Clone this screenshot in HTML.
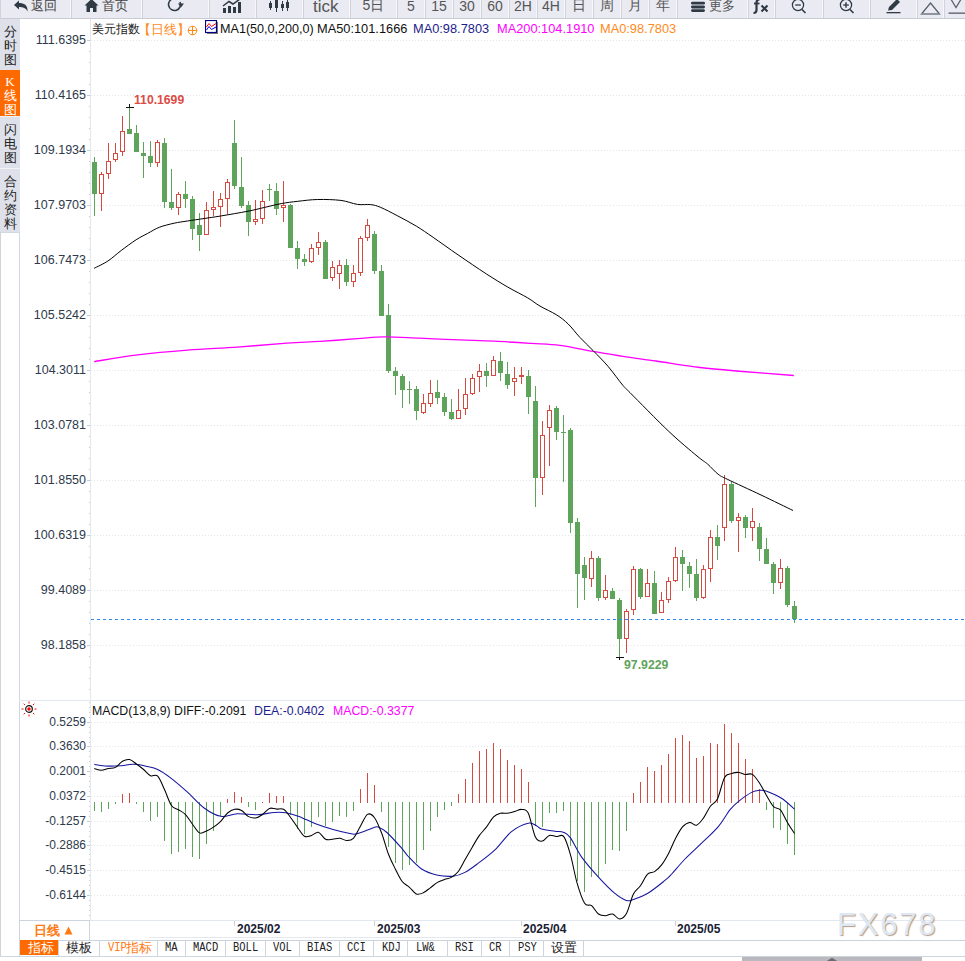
<!DOCTYPE html><html><head><meta charset="utf-8"><style>
*{margin:0;padding:0;box-sizing:border-box}
html,body{width:965px;height:961px;overflow:hidden;background:#fff;font-family:"Liberation Sans",sans-serif}
.t{position:absolute;white-space:nowrap;line-height:1}
#tb{position:absolute;left:0;top:0;width:965px;height:19px;background:#e9eaf2;border-bottom:1px solid #c9ccd4;overflow:hidden}
.sep{position:absolute;top:0;height:18px;width:2px;border-left:1px solid #f7f7fa;border-right:1px solid #cfd2d9}
.tbt{position:absolute;top:-4px;font-size:14px;color:#555;line-height:16px;white-space:nowrap}
.side{position:absolute;left:0;width:20px;background:#dfe1ea;color:#222;font-size:13px;line-height:14px;text-align:center}
.yl{position:absolute;right:878px;font-size:12.5px;color:#2e3a4c;line-height:13px;text-align:right}
.btab{position:absolute;top:940px;height:15px;font-family:"Liberation Mono",monospace;font-size:11px;line-height:15px;color:#333;text-align:center;border-right:1px solid #cdd4dd}
</style></head><body>

<div id="tb">
<div class="sep" style="left:70px"></div>
<div class="sep" style="left:141px"></div>
<div class="sep" style="left:208px"></div>
<div class="sep" style="left:255px"></div>
<div class="sep" style="left:302px"></div>
<div class="sep" style="left:349px"></div>
<div class="sep" style="left:396px"></div>
<div class="sep" style="left:424px"></div>
<div class="sep" style="left:452px"></div>
<div class="sep" style="left:480px"></div>
<div class="sep" style="left:508px"></div>
<div class="sep" style="left:536px"></div>
<div class="sep" style="left:564px"></div>
<div class="sep" style="left:592px"></div>
<div class="sep" style="left:620px"></div>
<div class="sep" style="left:648px"></div>
<div class="sep" style="left:676px"></div>
<div class="sep" style="left:747px"></div>
<div class="sep" style="left:774px"></div>
<div class="sep" style="left:822px"></div>
<div class="sep" style="left:869px"></div>
<div class="sep" style="left:916px"></div>
<div class="sep" style="left:943px"></div>
<svg style="position:absolute;left:13px;top:0" width="17" height="13"><path d="M1,5 L6,0.5 L6,3 C11,3 15,5 14.5,11.5 C13,8 10,7 6,7 L6,9.5 Z" fill="#2f3a45"/></svg>
<div class="tbt" style="left:31px;color:#444;font-size:13px;top:-2px">返回</div>
<svg style="position:absolute;left:84px;top:0" width="15" height="13"><path d="M7.5,-1 L14.5,5.5 L12.5,5.5 L12.5,12 L9,12 L9,8 L6,8 L6,12 L2.5,12 L2.5,5.5 L0.5,5.5 Z" fill="#2f3a45"/></svg>
<div class="tbt" style="left:102px;color:#444;font-size:13px;top:-2px">首页</div>
<svg style="position:absolute;left:166px;top:0" width="20" height="13"><path d="M14,2 A6,6 0 1 1 8,-1.5" fill="none" stroke="#2f3a45" stroke-width="1.6"/><path d="M12,3.5 L18,3.5 L15,7.5 Z" fill="#2f3a45"/></svg>
<svg style="position:absolute;left:222px;top:0" width="20" height="13"><rect x="1" y="8" width="3" height="5" fill="#2f3a45"/><rect x="6" y="6" width="3" height="7" fill="#2f3a45"/><rect x="11" y="7" width="3" height="6" fill="#2f3a45"/><rect x="16" y="2" width="3" height="11" fill="#2f3a45"/><polyline points="1,6 7,1.5 11,4 18,-1" fill="none" stroke="#2f3a45" stroke-width="1.5"/></svg>
<svg style="position:absolute;left:268px;top:0" width="22" height="13"><g fill="#2f3a45"><rect x="1" y="3" width="3" height="5"/><rect x="2" y="1" width="1" height="9"/><rect x="7" y="0" width="3" height="8"/><rect x="8" y="0" width="1" height="12"/><rect x="13" y="4" width="3" height="4"/><rect x="14" y="1" width="1" height="10"/><rect x="18" y="2" width="3" height="6"/><rect x="19" y="0" width="1" height="11"/></g></svg>
<div class="tbt" style="left:313px;font-size:17px;color:#555;top:-2px;line-height:18px">tick</div>
<div class="tbt" style="left:350px;width:47px;text-align:center;top:-3px">5日</div>
<div class="tbt" style="left:397px;width:28px;text-align:center;top:-2px">5</div>
<div class="tbt" style="left:425px;width:28px;text-align:center;top:-2px">15</div>
<div class="tbt" style="left:453px;width:28px;text-align:center;top:-2px">30</div>
<div class="tbt" style="left:481px;width:28px;text-align:center;top:-2px">60</div>
<div class="tbt" style="left:509px;width:28px;text-align:center;top:-2px">2H</div>
<div class="tbt" style="left:537px;width:28px;text-align:center;top:-2px">4H</div>
<div class="tbt" style="left:565px;width:28px;text-align:center;top:-3px">日</div>
<div class="tbt" style="left:593px;width:28px;text-align:center;top:-3px">周</div>
<div class="tbt" style="left:621px;width:28px;text-align:center;top:-3px">月</div>
<div class="tbt" style="left:649px;width:28px;text-align:center;top:-3px">年</div>
<svg style="position:absolute;left:690px;top:0" width="16" height="13"><rect x="1" y="1.8" width="14" height="2.8" rx="1.4" fill="#2f3a45"/><rect x="1" y="5.6" width="14" height="2.8" rx="1.4" fill="#2f3a45"/><rect x="1" y="9.2" width="14" height="2.8" rx="1.4" fill="#2f3a45"/></svg>
<div class="tbt" style="left:709px;font-size:13px;top:-2px">更多</div>
<svg style="position:absolute;left:750px;top:0" width="22" height="15"><path d="M9.5,-0.5 Q6.5,-0.5 6.5,3 L6.5,10 Q6.5,13 3.5,13" fill="none" stroke="#2f3a45" stroke-width="2.2"/><line x1="4" y1="3.5" x2="9.5" y2="3.5" stroke="#2f3a45" stroke-width="1.8"/><line x1="11.5" y1="5.5" x2="17.5" y2="11.5" stroke="#2f3a45" stroke-width="2.2"/><line x1="17.5" y1="5.5" x2="11.5" y2="11.5" stroke="#2f3a45" stroke-width="2.2"/></svg>
<svg style="position:absolute;left:790px;top:0" width="20" height="15"><circle cx="8" cy="5" r="5.6" fill="none" stroke="#2f3a45" stroke-width="1.25"/><line x1="5.2" y1="5" x2="10.8" y2="5" stroke="#2f3a45" stroke-width="1.3"/><line x1="12" y1="9.5" x2="15.5" y2="13" stroke="#2f3a45" stroke-width="1.6"/></svg>
<svg style="position:absolute;left:838px;top:0" width="20" height="15"><circle cx="8" cy="5" r="5.6" fill="none" stroke="#2f3a45" stroke-width="1.25"/><line x1="5.2" y1="5" x2="10.8" y2="5" stroke="#2f3a45" stroke-width="1.3"/><line x1="8" y1="2.2" x2="8" y2="7.8" stroke="#2f3a45" stroke-width="1.4"/><line x1="12" y1="9.5" x2="15.5" y2="13" stroke="#2f3a45" stroke-width="1.6"/></svg>
<svg style="position:absolute;left:885px;top:0" width="17" height="15"><path d="M3,10.5 L4,7 L12,-1 L15,2 L7,10 Z" fill="#2f3a45"/><rect x="1.5" y="12" width="14" height="1.3" fill="#2f3a45"/></svg>
<svg style="position:absolute;left:920px;top:0" width="22" height="16"><path d="M1.5,14 L10.5,3 L19.5,14 Z" fill="none" stroke="#555c66" stroke-width="1.2"/><rect x="1" y="13.2" width="19" height="1.5" fill="#8a9099"/></svg>
<svg style="position:absolute;left:947px;top:0" width="18" height="15"><polyline points="2,-4 9,7.5 16,-4" fill="none" stroke="#555c66" stroke-width="1.2"/><rect x="1.5" y="12.5" width="17" height="1.3" fill="#555c66"/></svg>
</div>
<svg width="965" height="961" style="position:absolute;left:0;top:0" shape-rendering="crispEdges"><line x1="91" y1="40.5" x2="965" y2="40.5" stroke="#e0e6ec" stroke-width="1" stroke-dasharray="1,2"/>
<line x1="87" y1="40.5" x2="90" y2="40.5" stroke="#c5cdd6" stroke-width="1"/>
<line x1="91" y1="95.5" x2="965" y2="95.5" stroke="#e0e6ec" stroke-width="1" stroke-dasharray="1,2"/>
<line x1="87" y1="95.5" x2="90" y2="95.5" stroke="#c5cdd6" stroke-width="1"/>
<line x1="91" y1="150.5" x2="965" y2="150.5" stroke="#e0e6ec" stroke-width="1" stroke-dasharray="1,2"/>
<line x1="87" y1="150.5" x2="90" y2="150.5" stroke="#c5cdd6" stroke-width="1"/>
<line x1="91" y1="205.5" x2="965" y2="205.5" stroke="#e0e6ec" stroke-width="1" stroke-dasharray="1,2"/>
<line x1="87" y1="205.5" x2="90" y2="205.5" stroke="#c5cdd6" stroke-width="1"/>
<line x1="91" y1="260.5" x2="965" y2="260.5" stroke="#e0e6ec" stroke-width="1" stroke-dasharray="1,2"/>
<line x1="87" y1="260.5" x2="90" y2="260.5" stroke="#c5cdd6" stroke-width="1"/>
<line x1="91" y1="315.5" x2="965" y2="315.5" stroke="#e0e6ec" stroke-width="1" stroke-dasharray="1,2"/>
<line x1="87" y1="315.5" x2="90" y2="315.5" stroke="#c5cdd6" stroke-width="1"/>
<line x1="91" y1="370.5" x2="965" y2="370.5" stroke="#e0e6ec" stroke-width="1" stroke-dasharray="1,2"/>
<line x1="87" y1="370.5" x2="90" y2="370.5" stroke="#c5cdd6" stroke-width="1"/>
<line x1="91" y1="425.5" x2="965" y2="425.5" stroke="#e0e6ec" stroke-width="1" stroke-dasharray="1,2"/>
<line x1="87" y1="425.5" x2="90" y2="425.5" stroke="#c5cdd6" stroke-width="1"/>
<line x1="91" y1="480.5" x2="965" y2="480.5" stroke="#e0e6ec" stroke-width="1" stroke-dasharray="1,2"/>
<line x1="87" y1="480.5" x2="90" y2="480.5" stroke="#c5cdd6" stroke-width="1"/>
<line x1="91" y1="535.5" x2="965" y2="535.5" stroke="#e0e6ec" stroke-width="1" stroke-dasharray="1,2"/>
<line x1="87" y1="535.5" x2="90" y2="535.5" stroke="#c5cdd6" stroke-width="1"/>
<line x1="91" y1="590.5" x2="965" y2="590.5" stroke="#e0e6ec" stroke-width="1" stroke-dasharray="1,2"/>
<line x1="87" y1="590.5" x2="90" y2="590.5" stroke="#c5cdd6" stroke-width="1"/>
<line x1="91" y1="645.5" x2="965" y2="645.5" stroke="#e0e6ec" stroke-width="1" stroke-dasharray="1,2"/>
<line x1="87" y1="645.5" x2="90" y2="645.5" stroke="#c5cdd6" stroke-width="1"/>
<line x1="89" y1="40.5" x2="90" y2="40.5" stroke="#c5cdd6" stroke-width="1"/>
<line x1="89" y1="51.5" x2="90" y2="51.5" stroke="#c5cdd6" stroke-width="1"/>
<line x1="89" y1="62.5" x2="90" y2="62.5" stroke="#c5cdd6" stroke-width="1"/>
<line x1="89" y1="73.5" x2="90" y2="73.5" stroke="#c5cdd6" stroke-width="1"/>
<line x1="89" y1="51.5" x2="90" y2="51.5" stroke="#c5cdd6" stroke-width="1"/>
<line x1="89" y1="62.5" x2="90" y2="62.5" stroke="#c5cdd6" stroke-width="1"/>
<line x1="89" y1="73.5" x2="90" y2="73.5" stroke="#c5cdd6" stroke-width="1"/>
<line x1="89" y1="84.5" x2="90" y2="84.5" stroke="#c5cdd6" stroke-width="1"/>
<line x1="89" y1="106.5" x2="90" y2="106.5" stroke="#c5cdd6" stroke-width="1"/>
<line x1="89" y1="117.5" x2="90" y2="117.5" stroke="#c5cdd6" stroke-width="1"/>
<line x1="89" y1="128.5" x2="90" y2="128.5" stroke="#c5cdd6" stroke-width="1"/>
<line x1="89" y1="139.5" x2="90" y2="139.5" stroke="#c5cdd6" stroke-width="1"/>
<line x1="89" y1="161.5" x2="90" y2="161.5" stroke="#c5cdd6" stroke-width="1"/>
<line x1="89" y1="172.5" x2="90" y2="172.5" stroke="#c5cdd6" stroke-width="1"/>
<line x1="89" y1="183.5" x2="90" y2="183.5" stroke="#c5cdd6" stroke-width="1"/>
<line x1="89" y1="194.5" x2="90" y2="194.5" stroke="#c5cdd6" stroke-width="1"/>
<line x1="89" y1="216.5" x2="90" y2="216.5" stroke="#c5cdd6" stroke-width="1"/>
<line x1="89" y1="227.5" x2="90" y2="227.5" stroke="#c5cdd6" stroke-width="1"/>
<line x1="89" y1="238.5" x2="90" y2="238.5" stroke="#c5cdd6" stroke-width="1"/>
<line x1="89" y1="249.5" x2="90" y2="249.5" stroke="#c5cdd6" stroke-width="1"/>
<line x1="89" y1="271.5" x2="90" y2="271.5" stroke="#c5cdd6" stroke-width="1"/>
<line x1="89" y1="282.5" x2="90" y2="282.5" stroke="#c5cdd6" stroke-width="1"/>
<line x1="89" y1="293.5" x2="90" y2="293.5" stroke="#c5cdd6" stroke-width="1"/>
<line x1="89" y1="304.5" x2="90" y2="304.5" stroke="#c5cdd6" stroke-width="1"/>
<line x1="89" y1="326.5" x2="90" y2="326.5" stroke="#c5cdd6" stroke-width="1"/>
<line x1="89" y1="337.5" x2="90" y2="337.5" stroke="#c5cdd6" stroke-width="1"/>
<line x1="89" y1="348.5" x2="90" y2="348.5" stroke="#c5cdd6" stroke-width="1"/>
<line x1="89" y1="359.5" x2="90" y2="359.5" stroke="#c5cdd6" stroke-width="1"/>
<line x1="89" y1="381.5" x2="90" y2="381.5" stroke="#c5cdd6" stroke-width="1"/>
<line x1="89" y1="392.5" x2="90" y2="392.5" stroke="#c5cdd6" stroke-width="1"/>
<line x1="89" y1="403.5" x2="90" y2="403.5" stroke="#c5cdd6" stroke-width="1"/>
<line x1="89" y1="414.5" x2="90" y2="414.5" stroke="#c5cdd6" stroke-width="1"/>
<line x1="89" y1="436.5" x2="90" y2="436.5" stroke="#c5cdd6" stroke-width="1"/>
<line x1="89" y1="447.5" x2="90" y2="447.5" stroke="#c5cdd6" stroke-width="1"/>
<line x1="89" y1="458.5" x2="90" y2="458.5" stroke="#c5cdd6" stroke-width="1"/>
<line x1="89" y1="469.5" x2="90" y2="469.5" stroke="#c5cdd6" stroke-width="1"/>
<line x1="89" y1="491.5" x2="90" y2="491.5" stroke="#c5cdd6" stroke-width="1"/>
<line x1="89" y1="502.5" x2="90" y2="502.5" stroke="#c5cdd6" stroke-width="1"/>
<line x1="89" y1="513.5" x2="90" y2="513.5" stroke="#c5cdd6" stroke-width="1"/>
<line x1="89" y1="524.5" x2="90" y2="524.5" stroke="#c5cdd6" stroke-width="1"/>
<line x1="89" y1="546.5" x2="90" y2="546.5" stroke="#c5cdd6" stroke-width="1"/>
<line x1="89" y1="557.5" x2="90" y2="557.5" stroke="#c5cdd6" stroke-width="1"/>
<line x1="89" y1="568.5" x2="90" y2="568.5" stroke="#c5cdd6" stroke-width="1"/>
<line x1="89" y1="579.5" x2="90" y2="579.5" stroke="#c5cdd6" stroke-width="1"/>
<line x1="89" y1="601.5" x2="90" y2="601.5" stroke="#c5cdd6" stroke-width="1"/>
<line x1="89" y1="612.5" x2="90" y2="612.5" stroke="#c5cdd6" stroke-width="1"/>
<line x1="89" y1="623.5" x2="90" y2="623.5" stroke="#c5cdd6" stroke-width="1"/>
<line x1="89" y1="634.5" x2="90" y2="634.5" stroke="#c5cdd6" stroke-width="1"/>
<line x1="89" y1="656.5" x2="90" y2="656.5" stroke="#c5cdd6" stroke-width="1"/>
<line x1="89" y1="667.5" x2="90" y2="667.5" stroke="#c5cdd6" stroke-width="1"/>
<line x1="89" y1="678.5" x2="90" y2="678.5" stroke="#c5cdd6" stroke-width="1"/>
<line x1="89" y1="689.5" x2="90" y2="689.5" stroke="#c5cdd6" stroke-width="1"/>
<line x1="91" y1="722.5" x2="965" y2="722.5" stroke="#e0e6ec" stroke-width="1" stroke-dasharray="1,2"/>
<line x1="87" y1="722.5" x2="90" y2="722.5" stroke="#c5cdd6" stroke-width="1"/>
<line x1="89" y1="727.5" x2="90" y2="727.5" stroke="#c5cdd6" stroke-width="1"/>
<line x1="89" y1="732.5" x2="90" y2="732.5" stroke="#c5cdd6" stroke-width="1"/>
<line x1="89" y1="737.5" x2="90" y2="737.5" stroke="#c5cdd6" stroke-width="1"/>
<line x1="89" y1="742.5" x2="90" y2="742.5" stroke="#c5cdd6" stroke-width="1"/>
<line x1="91" y1="746.5" x2="965" y2="746.5" stroke="#e0e6ec" stroke-width="1" stroke-dasharray="1,2"/>
<line x1="87" y1="746.5" x2="90" y2="746.5" stroke="#c5cdd6" stroke-width="1"/>
<line x1="89" y1="751.5" x2="90" y2="751.5" stroke="#c5cdd6" stroke-width="1"/>
<line x1="89" y1="756.5" x2="90" y2="756.5" stroke="#c5cdd6" stroke-width="1"/>
<line x1="89" y1="761.5" x2="90" y2="761.5" stroke="#c5cdd6" stroke-width="1"/>
<line x1="89" y1="766.5" x2="90" y2="766.5" stroke="#c5cdd6" stroke-width="1"/>
<line x1="91" y1="771.5" x2="965" y2="771.5" stroke="#e0e6ec" stroke-width="1" stroke-dasharray="1,2"/>
<line x1="87" y1="771.5" x2="90" y2="771.5" stroke="#c5cdd6" stroke-width="1"/>
<line x1="89" y1="776.5" x2="90" y2="776.5" stroke="#c5cdd6" stroke-width="1"/>
<line x1="89" y1="781.5" x2="90" y2="781.5" stroke="#c5cdd6" stroke-width="1"/>
<line x1="89" y1="786.5" x2="90" y2="786.5" stroke="#c5cdd6" stroke-width="1"/>
<line x1="89" y1="791.5" x2="90" y2="791.5" stroke="#c5cdd6" stroke-width="1"/>
<line x1="91" y1="796.5" x2="965" y2="796.5" stroke="#e0e6ec" stroke-width="1" stroke-dasharray="1,2"/>
<line x1="87" y1="796.5" x2="90" y2="796.5" stroke="#c5cdd6" stroke-width="1"/>
<line x1="89" y1="801.5" x2="90" y2="801.5" stroke="#c5cdd6" stroke-width="1"/>
<line x1="89" y1="806.5" x2="90" y2="806.5" stroke="#c5cdd6" stroke-width="1"/>
<line x1="89" y1="811.5" x2="90" y2="811.5" stroke="#c5cdd6" stroke-width="1"/>
<line x1="89" y1="816.5" x2="90" y2="816.5" stroke="#c5cdd6" stroke-width="1"/>
<line x1="91" y1="821.5" x2="965" y2="821.5" stroke="#e0e6ec" stroke-width="1" stroke-dasharray="1,2"/>
<line x1="87" y1="821.5" x2="90" y2="821.5" stroke="#c5cdd6" stroke-width="1"/>
<line x1="89" y1="826.5" x2="90" y2="826.5" stroke="#c5cdd6" stroke-width="1"/>
<line x1="89" y1="831.5" x2="90" y2="831.5" stroke="#c5cdd6" stroke-width="1"/>
<line x1="89" y1="836.5" x2="90" y2="836.5" stroke="#c5cdd6" stroke-width="1"/>
<line x1="89" y1="841.5" x2="90" y2="841.5" stroke="#c5cdd6" stroke-width="1"/>
<line x1="91" y1="845.5" x2="965" y2="845.5" stroke="#e0e6ec" stroke-width="1" stroke-dasharray="1,2"/>
<line x1="87" y1="845.5" x2="90" y2="845.5" stroke="#c5cdd6" stroke-width="1"/>
<line x1="89" y1="849.5" x2="90" y2="849.5" stroke="#c5cdd6" stroke-width="1"/>
<line x1="89" y1="854.5" x2="90" y2="854.5" stroke="#c5cdd6" stroke-width="1"/>
<line x1="89" y1="859.5" x2="90" y2="859.5" stroke="#c5cdd6" stroke-width="1"/>
<line x1="89" y1="864.5" x2="90" y2="864.5" stroke="#c5cdd6" stroke-width="1"/>
<line x1="91" y1="870.5" x2="965" y2="870.5" stroke="#e0e6ec" stroke-width="1" stroke-dasharray="1,2"/>
<line x1="87" y1="870.5" x2="90" y2="870.5" stroke="#c5cdd6" stroke-width="1"/>
<line x1="89" y1="875.5" x2="90" y2="875.5" stroke="#c5cdd6" stroke-width="1"/>
<line x1="89" y1="880.5" x2="90" y2="880.5" stroke="#c5cdd6" stroke-width="1"/>
<line x1="89" y1="885.5" x2="90" y2="885.5" stroke="#c5cdd6" stroke-width="1"/>
<line x1="89" y1="890.5" x2="90" y2="890.5" stroke="#c5cdd6" stroke-width="1"/>
<line x1="91" y1="895.5" x2="965" y2="895.5" stroke="#e0e6ec" stroke-width="1" stroke-dasharray="1,2"/>
<line x1="87" y1="895.5" x2="90" y2="895.5" stroke="#c5cdd6" stroke-width="1"/>
<line x1="89" y1="900.5" x2="90" y2="900.5" stroke="#c5cdd6" stroke-width="1"/>
<line x1="89" y1="905.5" x2="90" y2="905.5" stroke="#c5cdd6" stroke-width="1"/>
<line x1="89" y1="910.5" x2="90" y2="910.5" stroke="#c5cdd6" stroke-width="1"/>
<line x1="89" y1="915.5" x2="90" y2="915.5" stroke="#c5cdd6" stroke-width="1"/>
<line x1="89" y1="717.5" x2="90" y2="717.5" stroke="#c5cdd6" stroke-width="1"/>
<line x1="89" y1="712.5" x2="90" y2="712.5" stroke="#c5cdd6" stroke-width="1"/>
<line x1="89" y1="707.5" x2="90" y2="707.5" stroke="#c5cdd6" stroke-width="1"/>
<line x1="89" y1="702.5" x2="90" y2="702.5" stroke="#c5cdd6" stroke-width="1"/>
<line x1="90.5" y1="19" x2="90.5" y2="920" stroke="#e2e8ee" stroke-width="1"/>
<line x1="19.5" y1="232" x2="19.5" y2="956" stroke="#cfd7df" stroke-width="1"/>
<line x1="0" y1="232.5" x2="20" y2="232.5" stroke="#cfd7df" stroke-width="1"/>
<line x1="19" y1="700.5" x2="965" y2="700.5" stroke="#e2e8ee" stroke-width="1"/>
<line x1="19" y1="920.5" x2="965" y2="920.5" stroke="#e2e8ee" stroke-width="1"/>
<line x1="149" y1="937.5" x2="522" y2="937.5" stroke="#e2e8ee" stroke-width="1"/>
<line x1="0.5" y1="0" x2="0.5" y2="956" stroke="#cdd4dc" stroke-width="1"/>
<line x1="234.5" y1="921" x2="234.5" y2="926" stroke="#c8d0d8" stroke-width="1"/>
<line x1="374.5" y1="921" x2="374.5" y2="926" stroke="#c8d0d8" stroke-width="1"/>
<line x1="521.5" y1="921" x2="521.5" y2="926" stroke="#c8d0d8" stroke-width="1"/>
<line x1="675.5" y1="921" x2="675.5" y2="926" stroke="#c8d0d8" stroke-width="1"/>
<rect x="94" y="157" width="1" height="59" fill="#5fa45b"/>
<rect x="92" y="162" width="5" height="32" fill="#5fa45b"/>
<rect x="101" y="172" width="1" height="2" fill="#d54a40"/>
<rect x="101" y="194" width="1" height="17" fill="#d54a40"/>
<rect x="99.5" y="174.5" width="4" height="19" fill="none" stroke="#d54a40" stroke-width="1"/>
<rect x="108" y="143" width="1" height="18" fill="#d54a40"/>
<rect x="108" y="174" width="1" height="5" fill="#d54a40"/>
<rect x="106.5" y="161.5" width="4" height="12" fill="none" stroke="#d54a40" stroke-width="1"/>
<rect x="115" y="143" width="1" height="10" fill="#d54a40"/>
<rect x="115" y="160" width="1" height="2" fill="#d54a40"/>
<rect x="113.5" y="153.5" width="4" height="6" fill="none" stroke="#d54a40" stroke-width="1"/>
<rect x="122" y="116" width="1" height="15" fill="#d54a40"/>
<rect x="122" y="152" width="1" height="4" fill="#d54a40"/>
<rect x="120.5" y="131.5" width="4" height="20" fill="none" stroke="#d54a40" stroke-width="1"/>
<rect x="129" y="107" width="1" height="27" fill="#5fa45b"/>
<rect x="127" y="129" width="5" height="5" fill="#5fa45b"/>
<rect x="136" y="125" width="1" height="27" fill="#5fa45b"/>
<rect x="134" y="133" width="5" height="19" fill="#5fa45b"/>
<rect x="143" y="142" width="1" height="36" fill="#5fa45b"/>
<rect x="141" y="153" width="5" height="3" fill="#5fa45b"/>
<rect x="150" y="141" width="1" height="26" fill="#5fa45b"/>
<rect x="148" y="156" width="5" height="7" fill="#5fa45b"/>
<rect x="157" y="140" width="1" height="2" fill="#d54a40"/>
<rect x="157" y="163" width="1" height="4" fill="#d54a40"/>
<rect x="155.5" y="142.5" width="4" height="20" fill="none" stroke="#d54a40" stroke-width="1"/>
<rect x="164" y="138" width="1" height="70" fill="#5fa45b"/>
<rect x="162" y="143" width="5" height="59" fill="#5fa45b"/>
<rect x="171" y="169" width="1" height="41" fill="#5fa45b"/>
<rect x="169" y="202" width="5" height="6" fill="#5fa45b"/>
<rect x="178" y="192" width="1" height="2" fill="#d54a40"/>
<rect x="178" y="208" width="1" height="7" fill="#d54a40"/>
<rect x="176.5" y="194.5" width="4" height="13" fill="none" stroke="#d54a40" stroke-width="1"/>
<rect x="185" y="181" width="1" height="27" fill="#5fa45b"/>
<rect x="183" y="194" width="5" height="5" fill="#5fa45b"/>
<rect x="192" y="196" width="1" height="44" fill="#5fa45b"/>
<rect x="190" y="199" width="5" height="30" fill="#5fa45b"/>
<rect x="199" y="213" width="1" height="38" fill="#5fa45b"/>
<rect x="197" y="225" width="5" height="10" fill="#5fa45b"/>
<rect x="206" y="202" width="1" height="8" fill="#d54a40"/>
<rect x="204.5" y="210.5" width="4" height="24" fill="none" stroke="#d54a40" stroke-width="1"/>
<rect x="213" y="191" width="1" height="16" fill="#d54a40"/>
<rect x="213" y="210" width="1" height="6" fill="#d54a40"/>
<rect x="211.5" y="207.5" width="4" height="2" fill="none" stroke="#d54a40" stroke-width="1"/>
<rect x="220" y="193" width="1" height="6" fill="#d54a40"/>
<rect x="220" y="207" width="1" height="20" fill="#d54a40"/>
<rect x="218.5" y="199.5" width="4" height="7" fill="none" stroke="#d54a40" stroke-width="1"/>
<rect x="227" y="179" width="1" height="3" fill="#d54a40"/>
<rect x="227" y="199" width="1" height="15" fill="#d54a40"/>
<rect x="225.5" y="182.5" width="4" height="16" fill="none" stroke="#d54a40" stroke-width="1"/>
<rect x="234" y="120" width="1" height="69" fill="#5fa45b"/>
<rect x="232" y="143" width="5" height="43" fill="#5fa45b"/>
<rect x="241" y="157" width="1" height="51" fill="#5fa45b"/>
<rect x="239" y="187" width="5" height="19" fill="#5fa45b"/>
<rect x="248" y="201" width="1" height="35" fill="#5fa45b"/>
<rect x="246" y="205" width="5" height="17" fill="#5fa45b"/>
<rect x="255" y="200" width="1" height="19" fill="#d54a40"/>
<rect x="255" y="222" width="1" height="3" fill="#d54a40"/>
<rect x="253.5" y="219.5" width="4" height="2" fill="none" stroke="#d54a40" stroke-width="1"/>
<rect x="262" y="190" width="1" height="11" fill="#d54a40"/>
<rect x="262" y="219" width="1" height="5" fill="#d54a40"/>
<rect x="260.5" y="201.5" width="4" height="17" fill="none" stroke="#d54a40" stroke-width="1"/>
<rect x="269" y="184" width="1" height="17" fill="#5fa45b"/>
<rect x="267" y="189" width="5" height="1" fill="#5fa45b"/>
<rect x="276" y="183" width="1" height="32" fill="#5fa45b"/>
<rect x="274" y="191" width="5" height="18" fill="#5fa45b"/>
<rect x="283" y="181" width="1" height="24" fill="#d54a40"/>
<rect x="283" y="208" width="1" height="14" fill="#d54a40"/>
<rect x="281.5" y="205.5" width="4" height="2" fill="none" stroke="#d54a40" stroke-width="1"/>
<rect x="290" y="204" width="1" height="44" fill="#5fa45b"/>
<rect x="288" y="205" width="5" height="43" fill="#5fa45b"/>
<rect x="297" y="241" width="1" height="28" fill="#5fa45b"/>
<rect x="295" y="248" width="5" height="11" fill="#5fa45b"/>
<rect x="304" y="254" width="1" height="12" fill="#5fa45b"/>
<rect x="302" y="259" width="5" height="3" fill="#5fa45b"/>
<rect x="311" y="244" width="1" height="4" fill="#d54a40"/>
<rect x="311" y="262" width="1" height="1" fill="#d54a40"/>
<rect x="309.5" y="248.5" width="4" height="13" fill="none" stroke="#d54a40" stroke-width="1"/>
<rect x="318" y="232" width="1" height="10" fill="#d54a40"/>
<rect x="318" y="248" width="1" height="7" fill="#d54a40"/>
<rect x="316.5" y="242.5" width="4" height="5" fill="none" stroke="#d54a40" stroke-width="1"/>
<rect x="325" y="240" width="1" height="39" fill="#5fa45b"/>
<rect x="323" y="242" width="5" height="37" fill="#5fa45b"/>
<rect x="332" y="261" width="1" height="6" fill="#d54a40"/>
<rect x="332" y="278" width="1" height="3" fill="#d54a40"/>
<rect x="330.5" y="267.5" width="4" height="10" fill="none" stroke="#d54a40" stroke-width="1"/>
<rect x="339" y="260" width="1" height="5" fill="#d54a40"/>
<rect x="339" y="274" width="1" height="15" fill="#d54a40"/>
<rect x="337.5" y="265.5" width="4" height="8" fill="none" stroke="#d54a40" stroke-width="1"/>
<rect x="346" y="259" width="1" height="27" fill="#5fa45b"/>
<rect x="344" y="265" width="5" height="17" fill="#5fa45b"/>
<rect x="353" y="265" width="1" height="8" fill="#d54a40"/>
<rect x="353" y="282" width="1" height="5" fill="#d54a40"/>
<rect x="351.5" y="273.5" width="4" height="8" fill="none" stroke="#d54a40" stroke-width="1"/>
<rect x="360" y="236" width="1" height="2" fill="#d54a40"/>
<rect x="360" y="273" width="1" height="3" fill="#d54a40"/>
<rect x="358.5" y="238.5" width="4" height="34" fill="none" stroke="#d54a40" stroke-width="1"/>
<rect x="367" y="219" width="1" height="6" fill="#d54a40"/>
<rect x="367" y="238" width="1" height="3" fill="#d54a40"/>
<rect x="365.5" y="225.5" width="4" height="12" fill="none" stroke="#d54a40" stroke-width="1"/>
<rect x="374" y="231" width="1" height="43" fill="#5fa45b"/>
<rect x="372" y="234" width="5" height="37" fill="#5fa45b"/>
<rect x="381" y="265" width="1" height="51" fill="#5fa45b"/>
<rect x="379" y="271" width="5" height="45" fill="#5fa45b"/>
<rect x="388" y="304" width="1" height="69" fill="#5fa45b"/>
<rect x="386" y="315" width="5" height="56" fill="#5fa45b"/>
<rect x="395" y="367" width="1" height="28" fill="#5fa45b"/>
<rect x="393" y="371" width="5" height="5" fill="#5fa45b"/>
<rect x="402" y="374" width="1" height="34" fill="#5fa45b"/>
<rect x="400" y="376" width="5" height="14" fill="#5fa45b"/>
<rect x="409" y="381" width="1" height="23" fill="#5fa45b"/>
<rect x="407" y="389" width="5" height="1" fill="#5fa45b"/>
<rect x="416" y="386" width="1" height="34" fill="#5fa45b"/>
<rect x="414" y="389" width="5" height="22" fill="#5fa45b"/>
<rect x="423" y="394" width="1" height="9" fill="#d54a40"/>
<rect x="423" y="413" width="1" height="1" fill="#d54a40"/>
<rect x="421.5" y="403.5" width="4" height="9" fill="none" stroke="#d54a40" stroke-width="1"/>
<rect x="430" y="380" width="1" height="13" fill="#d54a40"/>
<rect x="430" y="404" width="1" height="3" fill="#d54a40"/>
<rect x="428.5" y="393.5" width="4" height="10" fill="none" stroke="#d54a40" stroke-width="1"/>
<rect x="437" y="380" width="1" height="24" fill="#5fa45b"/>
<rect x="435" y="392" width="5" height="6" fill="#5fa45b"/>
<rect x="444" y="393" width="1" height="23" fill="#5fa45b"/>
<rect x="442" y="397" width="5" height="15" fill="#5fa45b"/>
<rect x="451" y="399" width="1" height="21" fill="#5fa45b"/>
<rect x="449" y="412" width="5" height="7" fill="#5fa45b"/>
<rect x="458" y="389" width="1" height="21" fill="#d54a40"/>
<rect x="456.5" y="410.5" width="4" height="8" fill="none" stroke="#d54a40" stroke-width="1"/>
<rect x="465" y="378" width="1" height="16" fill="#d54a40"/>
<rect x="465" y="409" width="1" height="6" fill="#d54a40"/>
<rect x="463.5" y="394.5" width="4" height="14" fill="none" stroke="#d54a40" stroke-width="1"/>
<rect x="472" y="374" width="1" height="4" fill="#d54a40"/>
<rect x="472" y="394" width="1" height="1" fill="#d54a40"/>
<rect x="470.5" y="378.5" width="4" height="15" fill="none" stroke="#d54a40" stroke-width="1"/>
<rect x="479" y="364" width="1" height="7" fill="#d54a40"/>
<rect x="479" y="377" width="1" height="15" fill="#d54a40"/>
<rect x="477.5" y="371.5" width="4" height="5" fill="none" stroke="#d54a40" stroke-width="1"/>
<rect x="486" y="363" width="1" height="24" fill="#5fa45b"/>
<rect x="484" y="371" width="5" height="5" fill="#5fa45b"/>
<rect x="493" y="356" width="1" height="4" fill="#d54a40"/>
<rect x="491.5" y="360.5" width="4" height="15" fill="none" stroke="#d54a40" stroke-width="1"/>
<rect x="500" y="352" width="1" height="29" fill="#5fa45b"/>
<rect x="498" y="361" width="5" height="12" fill="#5fa45b"/>
<rect x="507" y="362" width="1" height="27" fill="#5fa45b"/>
<rect x="505" y="374" width="5" height="11" fill="#5fa45b"/>
<rect x="514" y="367" width="1" height="11" fill="#d54a40"/>
<rect x="514" y="382" width="1" height="14" fill="#d54a40"/>
<rect x="512.5" y="378.5" width="4" height="3" fill="none" stroke="#d54a40" stroke-width="1"/>
<rect x="521" y="367" width="1" height="8" fill="#d54a40"/>
<rect x="521" y="377" width="1" height="7" fill="#d54a40"/>
<rect x="519" y="375" width="5" height="2" fill="#d54a40"/>
<rect x="528" y="370" width="1" height="44" fill="#5fa45b"/>
<rect x="526" y="376" width="5" height="21" fill="#5fa45b"/>
<rect x="535" y="386" width="1" height="121" fill="#5fa45b"/>
<rect x="533" y="401" width="5" height="77" fill="#5fa45b"/>
<rect x="542" y="421" width="1" height="14" fill="#d54a40"/>
<rect x="542" y="478" width="1" height="17" fill="#d54a40"/>
<rect x="540.5" y="435.5" width="4" height="42" fill="none" stroke="#d54a40" stroke-width="1"/>
<rect x="549" y="405" width="1" height="5" fill="#d54a40"/>
<rect x="549" y="428" width="1" height="38" fill="#d54a40"/>
<rect x="547.5" y="410.5" width="4" height="17" fill="none" stroke="#d54a40" stroke-width="1"/>
<rect x="556" y="406" width="1" height="34" fill="#5fa45b"/>
<rect x="554" y="408" width="5" height="24" fill="#5fa45b"/>
<rect x="563" y="415" width="1" height="67" fill="#5fa45b"/>
<rect x="561" y="432" width="5" height="1" fill="#5fa45b"/>
<rect x="570" y="428" width="1" height="105" fill="#5fa45b"/>
<rect x="568" y="430" width="5" height="93" fill="#5fa45b"/>
<rect x="577" y="518" width="1" height="90" fill="#5fa45b"/>
<rect x="575" y="522" width="5" height="52" fill="#5fa45b"/>
<rect x="584" y="557" width="1" height="43" fill="#5fa45b"/>
<rect x="582" y="565" width="5" height="13" fill="#5fa45b"/>
<rect x="591" y="551" width="1" height="7" fill="#d54a40"/>
<rect x="591" y="579" width="1" height="8" fill="#d54a40"/>
<rect x="589.5" y="558.5" width="4" height="20" fill="none" stroke="#d54a40" stroke-width="1"/>
<rect x="598" y="556" width="1" height="45" fill="#5fa45b"/>
<rect x="596" y="558" width="5" height="40" fill="#5fa45b"/>
<rect x="605" y="575" width="1" height="15" fill="#d54a40"/>
<rect x="605" y="598" width="1" height="2" fill="#d54a40"/>
<rect x="603.5" y="590.5" width="4" height="7" fill="none" stroke="#d54a40" stroke-width="1"/>
<rect x="612" y="588" width="1" height="11" fill="#5fa45b"/>
<rect x="610" y="591" width="5" height="8" fill="#5fa45b"/>
<rect x="619" y="598" width="1" height="60" fill="#5fa45b"/>
<rect x="617" y="600" width="5" height="39" fill="#5fa45b"/>
<rect x="626" y="609" width="1" height="2" fill="#d54a40"/>
<rect x="626" y="639" width="1" height="14" fill="#d54a40"/>
<rect x="624.5" y="611.5" width="4" height="27" fill="none" stroke="#d54a40" stroke-width="1"/>
<rect x="633" y="566" width="1" height="3" fill="#d54a40"/>
<rect x="633" y="610" width="1" height="5" fill="#d54a40"/>
<rect x="631.5" y="569.5" width="4" height="40" fill="none" stroke="#d54a40" stroke-width="1"/>
<rect x="640" y="568" width="1" height="31" fill="#5fa45b"/>
<rect x="638" y="569" width="5" height="28" fill="#5fa45b"/>
<rect x="647" y="569" width="1" height="14" fill="#d54a40"/>
<rect x="645.5" y="583.5" width="4" height="13" fill="none" stroke="#d54a40" stroke-width="1"/>
<rect x="654" y="571" width="1" height="43" fill="#5fa45b"/>
<rect x="652" y="583" width="5" height="31" fill="#5fa45b"/>
<rect x="661" y="592" width="1" height="8" fill="#d54a40"/>
<rect x="659.5" y="600.5" width="4" height="12" fill="none" stroke="#d54a40" stroke-width="1"/>
<rect x="668" y="577" width="1" height="4" fill="#d54a40"/>
<rect x="668" y="600" width="1" height="3" fill="#d54a40"/>
<rect x="666.5" y="581.5" width="4" height="18" fill="none" stroke="#d54a40" stroke-width="1"/>
<rect x="675" y="547" width="1" height="10" fill="#d54a40"/>
<rect x="675" y="581" width="1" height="1" fill="#d54a40"/>
<rect x="673.5" y="557.5" width="4" height="23" fill="none" stroke="#d54a40" stroke-width="1"/>
<rect x="682" y="550" width="1" height="41" fill="#5fa45b"/>
<rect x="680" y="557" width="5" height="7" fill="#5fa45b"/>
<rect x="689" y="562" width="1" height="26" fill="#5fa45b"/>
<rect x="687" y="566" width="5" height="8" fill="#5fa45b"/>
<rect x="696" y="559" width="1" height="42" fill="#5fa45b"/>
<rect x="694" y="574" width="5" height="24" fill="#5fa45b"/>
<rect x="703" y="565" width="1" height="4" fill="#d54a40"/>
<rect x="703" y="598" width="1" height="1" fill="#d54a40"/>
<rect x="701.5" y="569.5" width="4" height="28" fill="none" stroke="#d54a40" stroke-width="1"/>
<rect x="710" y="530" width="1" height="7" fill="#d54a40"/>
<rect x="710" y="569" width="1" height="13" fill="#d54a40"/>
<rect x="708.5" y="537.5" width="4" height="31" fill="none" stroke="#d54a40" stroke-width="1"/>
<rect x="717" y="525" width="1" height="35" fill="#5fa45b"/>
<rect x="715" y="537" width="5" height="9" fill="#5fa45b"/>
<rect x="724" y="475" width="1" height="9" fill="#d54a40"/>
<rect x="724" y="528" width="1" height="13" fill="#d54a40"/>
<rect x="722.5" y="484.5" width="4" height="43" fill="none" stroke="#d54a40" stroke-width="1"/>
<rect x="731" y="482" width="1" height="41" fill="#5fa45b"/>
<rect x="729" y="484" width="5" height="37" fill="#5fa45b"/>
<rect x="738" y="513" width="1" height="4" fill="#d54a40"/>
<rect x="738" y="521" width="1" height="31" fill="#d54a40"/>
<rect x="736.5" y="517.5" width="4" height="3" fill="none" stroke="#d54a40" stroke-width="1"/>
<rect x="745" y="515" width="1" height="23" fill="#5fa45b"/>
<rect x="743" y="517" width="5" height="11" fill="#5fa45b"/>
<rect x="752" y="508" width="1" height="13" fill="#d54a40"/>
<rect x="752" y="528" width="1" height="13" fill="#d54a40"/>
<rect x="750.5" y="521.5" width="4" height="6" fill="none" stroke="#d54a40" stroke-width="1"/>
<rect x="759" y="523" width="1" height="38" fill="#5fa45b"/>
<rect x="757" y="527" width="5" height="22" fill="#5fa45b"/>
<rect x="766" y="538" width="1" height="26" fill="#5fa45b"/>
<rect x="764" y="549" width="5" height="15" fill="#5fa45b"/>
<rect x="773" y="562" width="1" height="32" fill="#5fa45b"/>
<rect x="771" y="564" width="5" height="19" fill="#5fa45b"/>
<rect x="780" y="559" width="1" height="9" fill="#d54a40"/>
<rect x="780" y="583" width="1" height="6" fill="#d54a40"/>
<rect x="778.5" y="568.5" width="4" height="14" fill="none" stroke="#d54a40" stroke-width="1"/>
<rect x="787" y="566" width="1" height="41" fill="#5fa45b"/>
<rect x="785" y="568" width="5" height="37" fill="#5fa45b"/>
<rect x="794" y="601" width="1" height="22" fill="#5fa45b"/>
<rect x="792" y="606" width="5" height="13" fill="#5fa45b"/>
<path d="M94.20,361.60 C101.47,360.48 122.25,356.82 137.80,354.90 C153.35,352.98 170.92,351.40 187.50,350.10 C204.08,348.80 220.72,348.25 237.30,347.10 C253.88,345.95 273.22,344.15 287.00,343.20 C300.78,342.25 308.28,342.15 320.00,341.40 C331.72,340.65 346.52,339.45 357.30,338.70 C368.08,337.95 374.33,336.98 384.70,336.90 C395.07,336.82 407.07,337.70 419.50,338.20 C431.93,338.70 446.87,339.40 459.30,339.90 C471.73,340.40 482.08,340.62 494.10,341.20 C506.12,341.78 520.42,342.70 531.40,343.40 C542.38,344.10 549.72,344.07 560.00,345.40 C570.28,346.73 582.62,349.57 593.10,351.40 C603.58,353.23 612.40,354.80 622.90,356.40 C633.40,358.00 643.25,359.15 656.10,361.00 C668.95,362.85 685.55,365.75 700.00,367.50 C714.45,369.25 727.17,370.17 742.80,371.50 C758.43,372.83 785.30,374.83 793.80,375.50" fill="none" stroke="#ff00ff" stroke-width="1.35" stroke-linejoin="round" shape-rendering="geometricPrecision"/>
<path d="M94.10,268.30 C96.40,267.08 103.38,263.97 107.90,261.00 C112.42,258.03 116.50,254.03 121.20,250.50 C125.90,246.97 131.68,242.65 136.10,239.80 C140.52,236.95 143.83,235.48 147.70,233.40 C151.57,231.32 154.88,229.00 159.30,227.30 C163.72,225.60 169.50,224.25 174.20,223.20 C178.90,222.15 182.52,221.78 187.50,221.00 C192.48,220.22 198.57,219.33 204.10,218.50 C209.63,217.67 213.38,217.22 220.70,216.00 C228.02,214.78 240.68,212.63 248.00,211.20 C255.32,209.77 259.07,208.67 264.60,207.40 C270.13,206.13 275.67,204.62 281.20,203.60 C286.73,202.58 291.72,201.98 297.80,201.30 C303.88,200.62 310.52,199.65 317.70,199.50 C324.88,199.35 334.27,199.58 340.90,200.40 C347.53,201.22 352.53,203.70 357.50,204.40 C362.47,205.10 366.83,204.10 370.70,204.60 C374.57,205.10 376.27,205.55 380.70,207.40 C385.13,209.25 391.32,212.55 397.30,215.70 C403.28,218.85 410.62,222.68 416.60,226.30 C422.58,229.92 426.30,232.65 433.20,237.40 C440.10,242.15 449.17,248.73 458.00,254.80 C466.83,260.87 477.90,268.42 486.20,273.80 C494.50,279.18 500.88,283.08 507.80,287.10 C514.72,291.12 522.33,294.73 527.70,297.90 C533.07,301.07 535.18,303.27 540.00,306.10 C544.82,308.93 551.90,311.92 556.60,314.90 C561.30,317.88 564.33,320.27 568.20,324.00 C572.07,327.73 575.65,332.87 579.80,337.30 C583.95,341.73 588.40,345.77 593.10,350.60 C597.80,355.43 603.03,360.50 608.00,366.30 C612.97,372.10 619.23,381.02 622.90,385.40 C626.57,389.78 622.35,384.93 630.00,392.60 C637.65,400.27 657.63,420.83 668.80,431.40 C679.97,441.97 690.55,450.57 697.00,456.00 C703.45,461.43 703.98,460.97 707.50,464.00 C711.02,467.03 714.72,471.62 718.10,474.20 C721.48,476.78 720.65,476.03 727.80,479.50 C734.95,482.97 750.13,489.83 761.00,495.00 C771.87,500.17 787.67,507.92 793.00,510.50" fill="none" stroke="#000000" stroke-width="1.0" stroke-linejoin="round" shape-rendering="geometricPrecision"/>
<rect x="126" y="107" width="8" height="1" fill="#111"/><rect x="129" y="104" width="1" height="4" fill="#111"/>
<rect x="616" y="657" width="8" height="1" fill="#111"/><rect x="619" y="657" width="1" height="3" fill="#111"/>
<line x1="91" y1="619.5" x2="965" y2="619.5" stroke="#2b8af0" stroke-width="1" stroke-dasharray="3,3"/>
<rect x="94" y="802" width="1" height="9" fill="#5fa45b"/>
<rect x="101" y="802" width="1" height="10" fill="#5fa45b"/>
<rect x="108" y="802" width="1" height="7" fill="#5fa45b"/>
<rect x="115" y="802" width="1" height="2" fill="#5fa45b"/>
<rect x="122" y="794" width="1" height="9" fill="#d54a40"/>
<rect x="129" y="793" width="1" height="10" fill="#d54a40"/>
<rect x="136" y="802" width="1" height="2" fill="#5fa45b"/>
<rect x="143" y="802" width="1" height="10" fill="#5fa45b"/>
<rect x="150" y="802" width="1" height="19" fill="#5fa45b"/>
<rect x="157" y="802" width="1" height="15" fill="#5fa45b"/>
<rect x="164" y="802" width="1" height="39" fill="#5fa45b"/>
<rect x="171" y="802" width="1" height="52" fill="#5fa45b"/>
<rect x="178" y="802" width="1" height="50" fill="#5fa45b"/>
<rect x="185" y="802" width="1" height="47" fill="#5fa45b"/>
<rect x="192" y="802" width="1" height="55" fill="#5fa45b"/>
<rect x="199" y="802" width="1" height="57" fill="#5fa45b"/>
<rect x="206" y="802" width="1" height="42" fill="#5fa45b"/>
<rect x="213" y="802" width="1" height="29" fill="#5fa45b"/>
<rect x="220" y="802" width="1" height="14" fill="#5fa45b"/>
<rect x="227" y="799" width="1" height="4" fill="#d54a40"/>
<rect x="234" y="792" width="1" height="11" fill="#d54a40"/>
<rect x="241" y="797" width="1" height="6" fill="#d54a40"/>
<rect x="248" y="802" width="1" height="5" fill="#5fa45b"/>
<rect x="255" y="802" width="1" height="8" fill="#5fa45b"/>
<rect x="262" y="802" width="1" height="1" fill="#d54a40"/>
<rect x="269" y="793" width="1" height="10" fill="#d54a40"/>
<rect x="276" y="796" width="1" height="7" fill="#d54a40"/>
<rect x="283" y="796" width="1" height="7" fill="#d54a40"/>
<rect x="290" y="802" width="1" height="13" fill="#5fa45b"/>
<rect x="297" y="802" width="1" height="27" fill="#5fa45b"/>
<rect x="304" y="802" width="1" height="32" fill="#5fa45b"/>
<rect x="311" y="802" width="1" height="25" fill="#5fa45b"/>
<rect x="318" y="802" width="1" height="15" fill="#5fa45b"/>
<rect x="325" y="802" width="1" height="24" fill="#5fa45b"/>
<rect x="332" y="802" width="1" height="20" fill="#5fa45b"/>
<rect x="339" y="802" width="1" height="14" fill="#5fa45b"/>
<rect x="346" y="802" width="1" height="15" fill="#5fa45b"/>
<rect x="353" y="802" width="1" height="9" fill="#5fa45b"/>
<rect x="360" y="789" width="1" height="14" fill="#d54a40"/>
<rect x="367" y="773" width="1" height="30" fill="#d54a40"/>
<rect x="374" y="785" width="1" height="18" fill="#d54a40"/>
<rect x="381" y="802" width="1" height="10" fill="#5fa45b"/>
<rect x="388" y="802" width="1" height="45" fill="#5fa45b"/>
<rect x="395" y="802" width="1" height="61" fill="#5fa45b"/>
<rect x="402" y="802" width="1" height="68" fill="#5fa45b"/>
<rect x="409" y="802" width="1" height="63" fill="#5fa45b"/>
<rect x="416" y="802" width="1" height="61" fill="#5fa45b"/>
<rect x="423" y="802" width="1" height="48" fill="#5fa45b"/>
<rect x="430" y="802" width="1" height="29" fill="#5fa45b"/>
<rect x="437" y="802" width="1" height="15" fill="#5fa45b"/>
<rect x="444" y="802" width="1" height="8" fill="#5fa45b"/>
<rect x="451" y="802" width="1" height="4" fill="#5fa45b"/>
<rect x="458" y="794" width="1" height="9" fill="#d54a40"/>
<rect x="465" y="779" width="1" height="24" fill="#d54a40"/>
<rect x="472" y="763" width="1" height="40" fill="#d54a40"/>
<rect x="479" y="751" width="1" height="52" fill="#d54a40"/>
<rect x="486" y="749" width="1" height="54" fill="#d54a40"/>
<rect x="493" y="743" width="1" height="60" fill="#d54a40"/>
<rect x="500" y="749" width="1" height="54" fill="#d54a40"/>
<rect x="507" y="760" width="1" height="43" fill="#d54a40"/>
<rect x="514" y="765" width="1" height="38" fill="#d54a40"/>
<rect x="521" y="769" width="1" height="34" fill="#d54a40"/>
<rect x="528" y="782" width="1" height="21" fill="#d54a40"/>
<rect x="535" y="802" width="1" height="24" fill="#5fa45b"/>
<rect x="542" y="802" width="1" height="25" fill="#5fa45b"/>
<rect x="549" y="802" width="1" height="11" fill="#5fa45b"/>
<rect x="556" y="802" width="1" height="11" fill="#5fa45b"/>
<rect x="563" y="802" width="1" height="9" fill="#5fa45b"/>
<rect x="570" y="802" width="1" height="44" fill="#5fa45b"/>
<rect x="577" y="802" width="1" height="79" fill="#5fa45b"/>
<rect x="584" y="802" width="1" height="90" fill="#5fa45b"/>
<rect x="591" y="802" width="1" height="75" fill="#5fa45b"/>
<rect x="598" y="802" width="1" height="75" fill="#5fa45b"/>
<rect x="605" y="802" width="1" height="62" fill="#5fa45b"/>
<rect x="612" y="802" width="1" height="48" fill="#5fa45b"/>
<rect x="619" y="802" width="1" height="49" fill="#5fa45b"/>
<rect x="626" y="802" width="1" height="29" fill="#5fa45b"/>
<rect x="633" y="793" width="1" height="10" fill="#d54a40"/>
<rect x="640" y="782" width="1" height="21" fill="#d54a40"/>
<rect x="647" y="767" width="1" height="36" fill="#d54a40"/>
<rect x="654" y="771" width="1" height="32" fill="#d54a40"/>
<rect x="661" y="765" width="1" height="38" fill="#d54a40"/>
<rect x="668" y="754" width="1" height="49" fill="#d54a40"/>
<rect x="675" y="738" width="1" height="65" fill="#d54a40"/>
<rect x="682" y="735" width="1" height="68" fill="#d54a40"/>
<rect x="689" y="741" width="1" height="62" fill="#d54a40"/>
<rect x="696" y="758" width="1" height="45" fill="#d54a40"/>
<rect x="703" y="756" width="1" height="47" fill="#d54a40"/>
<rect x="710" y="743" width="1" height="60" fill="#d54a40"/>
<rect x="717" y="744" width="1" height="59" fill="#d54a40"/>
<rect x="724" y="724" width="1" height="79" fill="#d54a40"/>
<rect x="731" y="733" width="1" height="70" fill="#d54a40"/>
<rect x="738" y="743" width="1" height="60" fill="#d54a40"/>
<rect x="745" y="759" width="1" height="44" fill="#d54a40"/>
<rect x="752" y="769" width="1" height="34" fill="#d54a40"/>
<rect x="759" y="789" width="1" height="14" fill="#d54a40"/>
<rect x="766" y="802" width="1" height="8" fill="#5fa45b"/>
<rect x="773" y="802" width="1" height="26" fill="#5fa45b"/>
<rect x="780" y="802" width="1" height="28" fill="#5fa45b"/>
<rect x="787" y="802" width="1" height="42" fill="#5fa45b"/>
<rect x="794" y="802" width="1" height="53" fill="#5fa45b"/>
<path d="M94.30,764.50 C96.02,764.75 100.12,765.80 104.60,766.00 C109.08,766.20 117.05,765.97 121.20,765.70 C125.35,765.43 126.73,764.60 129.50,764.40 C132.27,764.20 135.05,764.20 137.80,764.50 C140.55,764.80 142.68,765.37 146.00,766.20 C149.32,767.03 153.55,767.52 157.70,769.50 C161.85,771.48 165.93,774.32 170.90,778.10 C175.87,781.88 181.97,787.22 187.50,792.20 C193.03,797.18 198.57,803.98 204.10,808.00 C209.63,812.02 215.17,815.33 220.70,816.30 C226.23,817.27 231.15,814.07 237.30,813.80 C243.45,813.53 251.45,814.93 257.60,814.70 C263.75,814.47 269.50,812.73 274.20,812.40 C278.90,812.07 281.67,812.03 285.80,812.70 C289.93,813.37 294.03,814.55 299.00,816.40 C303.97,818.25 310.07,821.65 315.60,823.80 C321.13,825.95 326.67,827.72 332.20,829.30 C337.73,830.88 344.65,832.55 348.80,833.30 C352.95,834.05 352.95,834.73 357.10,833.80 C361.25,832.87 370.12,828.80 373.70,827.70 C377.28,826.60 376.40,826.40 378.60,827.20 C380.80,828.00 383.17,829.13 386.90,832.50 C390.63,835.87 397.43,843.40 401.00,847.40 C404.57,851.40 404.87,852.90 408.30,856.50 C411.73,860.10 416.88,865.93 421.60,869.00 C426.32,872.07 431.32,873.70 436.60,874.90 C441.88,876.10 448.58,876.62 453.30,876.20 C458.02,875.78 460.73,874.57 464.90,872.40 C469.07,870.23 473.30,866.95 478.30,863.20 C483.30,859.45 489.37,855.17 494.90,849.90 C500.43,844.63 505.95,836.05 511.50,831.60 C517.05,827.15 524.03,824.18 528.20,823.20 C532.37,822.22 534.28,824.72 536.50,825.70 C538.72,826.68 538.42,828.18 541.50,829.10 C544.58,830.02 551.28,830.65 555.00,831.20 C558.72,831.75 561.22,831.28 563.80,832.40 C566.38,833.52 567.58,833.87 570.50,837.90 C573.42,841.93 576.72,850.15 581.30,856.60 C585.88,863.05 592.45,870.50 598.00,876.60 C603.55,882.70 609.88,889.23 614.60,893.20 C619.32,897.17 623.17,899.35 626.30,900.40 C629.43,901.45 629.80,900.70 633.40,899.50 C637.00,898.30 642.70,896.33 647.90,893.20 C653.10,890.07 660.63,883.90 664.60,880.70 C668.57,877.50 668.30,877.62 671.70,874.00 C675.10,870.38 680.02,864.13 685.00,859.00 C689.98,853.87 696.05,848.60 701.60,843.20 C707.15,837.80 713.58,832.15 718.30,826.60 C723.02,821.05 726.57,814.07 729.90,809.90 C733.23,805.73 734.68,804.52 738.30,801.60 C741.92,798.68 748.00,794.28 751.60,792.40 C755.20,790.52 757.40,790.48 759.90,790.30 C762.40,790.12 763.00,789.97 766.60,791.30 C770.20,792.63 776.85,795.33 781.50,798.30 C786.15,801.27 792.33,807.30 794.50,809.10" fill="none" stroke="#1515a0" stroke-width="1.05" stroke-linejoin="round" shape-rendering="geometricPrecision"/>
<path d="M94.30,768.50 C95.47,768.80 98.95,770.30 101.30,770.30 C103.65,770.30 106.05,768.98 108.40,768.50 C110.75,768.02 113.05,768.62 115.40,767.40 C117.75,766.18 120.15,762.50 122.50,761.20 C124.85,759.90 127.18,759.13 129.50,759.60 C131.82,760.07 134.05,762.35 136.40,764.00 C138.75,765.65 141.25,767.55 143.60,769.50 C145.95,771.45 148.15,774.58 150.50,775.70 C152.85,776.82 155.35,773.85 157.70,776.20 C160.05,778.55 162.32,784.92 164.60,789.80 C166.88,794.68 169.10,802.18 171.40,805.50 C173.70,808.82 176.05,808.18 178.40,809.70 C180.75,811.22 183.15,812.18 185.50,814.60 C187.85,817.02 190.15,821.15 192.50,824.20 C194.85,827.25 197.25,831.78 199.60,832.90 C201.95,834.02 204.28,831.87 206.60,830.90 C208.92,829.93 211.15,828.70 213.50,827.10 C215.85,825.50 218.35,823.65 220.70,821.30 C223.05,818.95 225.28,815.00 227.60,813.00 C229.92,811.00 232.27,809.72 234.60,809.30 C236.93,808.88 239.35,809.32 241.60,810.50 C243.85,811.68 245.80,815.15 248.10,816.40 C250.40,817.65 253.05,818.28 255.40,818.00 C257.75,817.72 259.85,816.30 262.20,814.70 C264.55,813.10 267.15,809.33 269.50,808.40 C271.85,807.47 273.95,808.95 276.30,809.10 C278.65,809.25 281.25,807.95 283.60,809.30 C285.95,810.65 288.10,814.22 290.40,817.20 C292.70,820.18 295.05,824.02 297.40,827.20 C299.75,830.38 302.15,834.92 304.50,836.30 C306.85,837.68 309.18,836.17 311.50,835.50 C313.82,834.83 316.05,831.67 318.40,832.30 C320.75,832.93 323.25,838.13 325.60,839.30 C327.95,840.47 330.15,839.47 332.50,839.30 C334.85,839.13 337.37,838.12 339.70,838.30 C342.03,838.48 344.22,840.40 346.50,840.40 C348.78,840.40 351.08,840.65 353.40,838.30 C355.72,835.95 358.05,830.28 360.40,826.30 C362.75,822.32 365.15,815.83 367.50,814.40 C369.85,812.97 372.15,814.60 374.50,817.70 C376.85,820.80 379.25,826.87 381.60,833.00 C383.95,839.13 386.27,848.42 388.60,854.50 C390.93,860.58 393.33,865.00 395.60,869.50 C397.87,874.00 399.88,878.53 402.20,881.50 C404.52,884.47 407.15,885.22 409.50,887.30 C411.85,889.38 414.00,893.08 416.30,894.00 C418.60,894.92 420.97,893.83 423.30,892.80 C425.63,891.77 427.93,889.53 430.30,887.80 C432.67,886.07 435.13,883.78 437.50,882.40 C439.87,881.02 442.20,880.33 444.50,879.50 C446.80,878.67 449.00,878.73 451.30,877.40 C453.60,876.07 455.95,874.57 458.30,871.50 C460.65,868.43 463.05,863.10 465.40,859.00 C467.75,854.90 470.07,850.83 472.40,846.90 C474.73,842.97 477.10,838.65 479.40,835.40 C481.70,832.15 483.83,830.48 486.20,827.40 C488.57,824.32 491.23,819.25 493.60,816.90 C495.97,814.55 498.10,813.90 500.40,813.30 C502.70,812.70 505.07,813.58 507.40,813.30 C509.73,813.02 512.05,812.25 514.40,811.60 C516.75,810.95 519.20,809.18 521.50,809.40 C523.80,809.62 525.88,808.32 528.20,812.90 C530.52,817.48 533.03,832.20 535.40,836.90 C537.77,841.60 540.08,841.35 542.40,841.10 C544.72,840.85 546.98,836.17 549.30,835.40 C551.62,834.63 553.88,836.30 556.30,836.50 C558.72,836.70 561.43,833.53 563.80,836.60 C566.17,839.67 568.28,847.13 570.50,854.90 C572.72,862.67 574.75,875.15 577.10,883.20 C579.45,891.25 582.18,899.45 584.60,903.20 C587.02,906.95 589.30,903.90 591.60,905.70 C593.90,907.50 596.10,912.33 598.40,914.00 C600.70,915.67 603.03,915.70 605.40,915.70 C607.77,915.70 610.23,913.45 612.60,914.00 C614.97,914.55 617.27,919.13 619.60,919.00 C621.93,918.87 624.30,917.37 626.60,913.20 C628.90,909.03 631.10,898.58 633.40,894.00 C635.70,889.42 638.03,889.02 640.40,885.70 C642.77,882.38 645.23,876.45 647.60,874.10 C649.97,871.75 652.27,873.13 654.60,871.60 C656.93,870.07 659.25,867.97 661.60,864.90 C663.95,861.83 666.38,857.60 668.70,853.20 C671.02,848.80 673.20,842.88 675.50,838.50 C677.80,834.12 680.15,829.58 682.50,826.90 C684.85,824.22 687.25,822.68 689.60,822.40 C691.95,822.12 694.27,825.95 696.60,825.20 C698.93,824.45 701.30,821.07 703.60,817.90 C705.90,814.73 708.10,809.33 710.40,806.20 C712.70,803.07 715.03,803.90 717.40,799.10 C719.77,794.30 722.23,781.65 724.60,777.40 C726.97,773.15 729.27,774.43 731.60,773.60 C733.93,772.77 736.30,772.27 738.60,772.40 C740.90,772.53 743.10,774.07 745.40,774.40 C747.70,774.73 750.03,772.92 752.40,774.40 C754.77,775.88 757.30,779.88 759.60,783.30 C761.90,786.72 763.87,791.02 766.20,794.90 C768.53,798.78 771.23,804.10 773.60,806.60 C775.97,809.10 778.10,807.27 780.40,809.90 C782.70,812.53 785.05,818.47 787.40,822.40 C789.75,826.33 793.32,831.65 794.50,833.50" fill="none" stroke="#000000" stroke-width="1.05" stroke-linejoin="round" shape-rendering="geometricPrecision"/>
<line x1="19" y1="940.5" x2="965" y2="940.5" stroke="#cbd3dd" stroke-width="1"/></svg>
<div class="yl" style="top:34px;right:879px">111.6395</div>
<div class="yl" style="top:89px;right:879px">110.4165</div>
<div class="yl" style="top:144px;right:879px">109.1934</div>
<div class="yl" style="top:199px;right:879px">107.9703</div>
<div class="yl" style="top:254px;right:879px">106.7473</div>
<div class="yl" style="top:309px;right:879px">105.5242</div>
<div class="yl" style="top:364px;right:879px">104.3011</div>
<div class="yl" style="top:419px;right:879px">103.0781</div>
<div class="yl" style="top:474px;right:879px">101.8550</div>
<div class="yl" style="top:529px;right:879px">100.6319</div>
<div class="yl" style="top:584px;right:879px">99.4089</div>
<div class="yl" style="top:639px;right:879px">98.1858</div>
<div class="yl" style="top:716px;font-size:12px;right:879px">0.5259</div>
<div class="yl" style="top:740px;font-size:12px;right:879px">0.3630</div>
<div class="yl" style="top:765px;font-size:12px;right:879px">0.2001</div>
<div class="yl" style="top:790px;font-size:12px;right:879px">0.0372</div>
<div class="yl" style="top:815px;font-size:12px;right:879px">-0.1257</div>
<div class="yl" style="top:839px;font-size:12px;right:879px">-0.2886</div>
<div class="yl" style="top:864px;font-size:12px;right:879px">-0.4515</div>
<div class="yl" style="top:889px;font-size:12px;right:879px">-0.6144</div>
<div class="side" style="top:19px;height:51px;padding-top:6px">分<br>时<br>图</div>
<div class="side" style="top:70px;height:46px;background:#ff6a00;color:#fff;padding-top:5px;font-family:'Liberation Serif',serif">K<br>线<br>图</div>
<div class="side" style="top:116px;height:52px;padding-top:6px;border-top:1px solid #f2f3f6">闪<br>电<br>图</div>
<div class="side" style="top:168px;height:64px;padding-top:6px;border-top:1px solid #f2f3f6">合<br>约<br>资<br>料</div>
<div class="t" style="left:92px;top:23px;font-size:12px;color:#222">美元指数</div>
<div class="t" style="left:138px;top:23px;font-size:13px;color:#ff8a1c">【日线】</div>
<svg style="position:absolute;left:187px;top:25px" width="11" height="11"><circle cx="5.5" cy="5.5" r="4.3" fill="none" stroke="#ff8a1c" stroke-width="1"/><line x1="1" y1="5.5" x2="10" y2="5.5" stroke="#ff8a1c"/><line x1="5.5" y1="1" x2="5.5" y2="10" stroke="#ff8a1c"/></svg>
<svg style="position:absolute;left:205px;top:20px" width="14" height="14"><rect x="0.5" y="0.5" width="11" height="12" fill="#fff" stroke="#00008b" stroke-width="1.2"/><rect x="12" y="2" width="1" height="12" fill="#777"/><rect x="2" y="13" width="11" height="1" fill="#777"/><polyline points="1.5,7 4,3.5 6.5,6.5 11,3.5" fill="none" stroke="#f00" stroke-width="1"/><polyline points="1.5,10 4,6.5 6.5,9.5 11,7" fill="none" stroke="#00f" stroke-width="1"/></svg>
<div class="t" style="left:220px;top:23px;font-size:12.6px;color:#111">MA1(50,0,200,0)</div>
<div class="t" style="left:317px;top:23px;font-size:12.8px;color:#111">MA50:101.1666</div>
<div class="t" style="left:413px;top:23px;font-size:12.8px;color:#1c1c8c">MA0:98.7803</div>
<div class="t" style="left:497px;top:23px;font-size:12.8px;color:#ff00ff">MA200:104.1910</div>
<div class="t" style="left:600px;top:23px;font-size:12.8px;color:#ff8a1c">MA0:98.7803</div>
<div class="t" style="left:134px;top:94px;font-size:12.2px;font-weight:bold;color:#dd4b45">110.1699</div>
<div class="t" style="left:624px;top:659px;font-size:12.3px;font-weight:bold;color:#5fa45b">97.9229</div>
<div class="t" style="left:92px;top:705px;font-size:12.3px;color:#111">MACD(13,8,9) DIFF:-0.2091</div>
<div class="t" style="left:254px;top:705px;font-size:12.3px;color:#1c1c8c">DEA:-0.0402</div>
<div class="t" style="left:333px;top:705px;font-size:12.3px;color:#ff00ff">MACD:-0.3377</div>
<svg style="position:absolute;left:21px;top:701px" width="16" height="16"><circle cx="8" cy="8" r="3.3" fill="none" stroke="#111" stroke-width="1.2"/><circle cx="8" cy="8" r="1.7" fill="#f00"/><g stroke="#f00" stroke-width="1"><line x1="8" y1="0.5" x2="8" y2="2.5"/><line x1="8" y1="13.5" x2="8" y2="15.5"/><line x1="0.5" y1="8" x2="2.5" y2="8"/><line x1="13.5" y1="8" x2="15.5" y2="8"/><line x1="2.7" y1="2.7" x2="4" y2="4"/><line x1="12" y1="12" x2="13.3" y2="13.3"/><line x1="13.3" y1="2.7" x2="12" y2="4"/><line x1="4" y1="12" x2="2.7" y2="13.3"/></g></svg>
<div class="t" style="left:237px;top:923px;font-size:12px;font-weight:bold;color:#1a2233">2025/02</div>
<div class="t" style="left:377px;top:923px;font-size:12px;font-weight:bold;color:#1a2233">2025/03</div>
<div class="t" style="left:523px;top:923px;font-size:12px;font-weight:bold;color:#1a2233">2025/04</div>
<div class="t" style="left:677px;top:923px;font-size:12px;font-weight:bold;color:#1a2233">2025/05</div>
<div style="position:absolute;left:19px;top:920px;width:71px;height:20px;border:1px solid #cdd4dd;border-bottom:none"></div>
<div class="t" style="left:34px;top:924px;font-size:13px;color:#ff7a10;font-weight:bold">日线</div>
<svg style="position:absolute;left:64px;top:926px" width="10" height="9"><polygon points="0.5,8.5 4.5,0.5 8.5,8.5" fill="#ff7a10"/></svg>
<div style="position:absolute;left:0;top:956px;width:965px;height:1px;background:#cdd5de"></div>
<div style="position:absolute;left:20px;top:940px;width:38px;height:15px;background:#ff6a00"></div>
<div style="position:absolute;left:58px;top:940px;width:1px;height:16px;background:#cdd4dd"></div>
<div style="position:absolute;left:99px;top:940px;width:1px;height:16px;background:#cdd4dd"></div>
<div style="position:absolute;left:157px;top:940px;width:1px;height:16px;background:#cdd4dd"></div>
<div style="position:absolute;left:185px;top:940px;width:1px;height:16px;background:#cdd4dd"></div>
<div style="position:absolute;left:225px;top:940px;width:1px;height:16px;background:#cdd4dd"></div>
<div style="position:absolute;left:265px;top:940px;width:1px;height:16px;background:#cdd4dd"></div>
<div style="position:absolute;left:299px;top:940px;width:1px;height:16px;background:#cdd4dd"></div>
<div style="position:absolute;left:339px;top:940px;width:1px;height:16px;background:#cdd4dd"></div>
<div style="position:absolute;left:373px;top:940px;width:1px;height:16px;background:#cdd4dd"></div>
<div style="position:absolute;left:407px;top:940px;width:1px;height:16px;background:#cdd4dd"></div>
<div style="position:absolute;left:447px;top:940px;width:1px;height:16px;background:#cdd4dd"></div>
<div style="position:absolute;left:481px;top:940px;width:1px;height:16px;background:#cdd4dd"></div>
<div style="position:absolute;left:509px;top:940px;width:1px;height:16px;background:#cdd4dd"></div>
<div style="position:absolute;left:543px;top:940px;width:1px;height:16px;background:#cdd4dd"></div>
<div style="position:absolute;left:583px;top:940px;width:1px;height:16px;background:#cdd4dd"></div>
<div class="t" style="left:28px;top:941px;font-size:13px;line-height:14px;color:#fff">指标</div>
<div class="t" style="left:66px;top:941px;font-size:13px;line-height:14px;color:#222">模板</div>
<div class="t" style="left:551px;top:941px;font-size:13px;line-height:14px;color:#222">设置</div>
<div class="t" style="left:126px;top:941px;font-size:13px;line-height:14px;color:#ff7a10">指标</div>
<div class="t" style="left:108px;top:942px;font-family:'Liberation Mono',monospace;font-size:12.5px;line-height:13px;color:#ff7a10;transform:scaleX(0.84);transform-origin:0 0">VIP</div>
<div class="t" style="left:165px;top:942px;font-family:'Liberation Mono',monospace;font-size:12.5px;line-height:13px;color:#222;transform:scaleX(0.84);transform-origin:0 0">MA</div>
<div class="t" style="left:193px;top:942px;font-family:'Liberation Mono',monospace;font-size:12.5px;line-height:13px;color:#222;transform:scaleX(0.84);transform-origin:0 0">MACD</div>
<div class="t" style="left:233px;top:942px;font-family:'Liberation Mono',monospace;font-size:12.5px;line-height:13px;color:#222;transform:scaleX(0.84);transform-origin:0 0">BOLL</div>
<div class="t" style="left:273px;top:942px;font-family:'Liberation Mono',monospace;font-size:12.5px;line-height:13px;color:#222;transform:scaleX(0.84);transform-origin:0 0">VOL</div>
<div class="t" style="left:307px;top:942px;font-family:'Liberation Mono',monospace;font-size:12.5px;line-height:13px;color:#222;transform:scaleX(0.84);transform-origin:0 0">BIAS</div>
<div class="t" style="left:347px;top:942px;font-family:'Liberation Mono',monospace;font-size:12.5px;line-height:13px;color:#222;transform:scaleX(0.84);transform-origin:0 0">CCI</div>
<div class="t" style="left:382px;top:942px;font-family:'Liberation Mono',monospace;font-size:12.5px;line-height:13px;color:#222;transform:scaleX(0.84);transform-origin:0 0">KDJ</div>
<div class="t" style="left:416px;top:942px;font-family:'Liberation Mono',monospace;font-size:12.5px;line-height:13px;color:#222;transform:scaleX(0.84);transform-origin:0 0">LW&amp;</div>
<div class="t" style="left:455px;top:942px;font-family:'Liberation Mono',monospace;font-size:12.5px;line-height:13px;color:#222;transform:scaleX(0.84);transform-origin:0 0">RSI</div>
<div class="t" style="left:489px;top:942px;font-family:'Liberation Mono',monospace;font-size:12.5px;line-height:13px;color:#222;transform:scaleX(0.84);transform-origin:0 0">CR</div>
<div class="t" style="left:518px;top:942px;font-family:'Liberation Mono',monospace;font-size:12.5px;line-height:13px;color:#222;transform:scaleX(0.84);transform-origin:0 0">PSY</div>
<div class="t" style="left:837px;top:909px;font-size:31px;color:#dce8f6;letter-spacing:1.8px;text-shadow:1px 1px 1px #b89a88">FX678</div>
<svg style="position:absolute;left:742px;top:957px" width="180" height="4"><rect x="0" y="0" width="180" height="4" fill="#b9b8be"/><polygon points="84,4.5 90,0.8 96,4.5" fill="#6b6b70"/></svg>
</body></html>
